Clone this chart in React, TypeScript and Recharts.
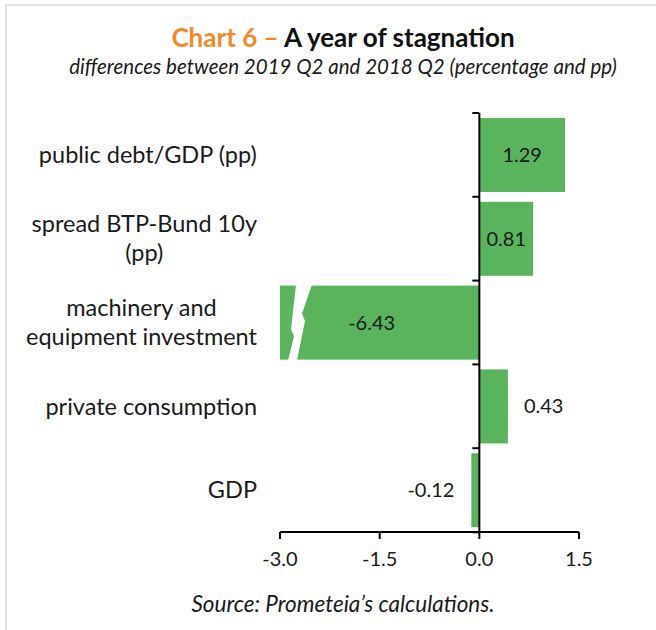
import { BarChart, Bar, XAxis, YAxis, ReferenceLine } from 'recharts';

const categories = [
  'public debt/GDP (pp)',
  'spread BTP-Bund 10y (pp)',
  'machinery and equipment investment',
  'private consumption',
  'GDP',
];
// how each category label is broken into lines
const categoryLines = [
  ['public debt/GDP (pp)'],
  ['spread BTP-Bund 10y', '(pp)'],
  ['machinery and', 'equipment investment'],
  ['private consumption'],
  ['GDP'],
];
const values = [1.29, 0.81, -6.43, 0.43, -0.12];
const xTicks = [-3, -1.5, 0, 1.5];
const xDomain = [-3, 1.5];

const data = categories.map((name, i) => ({ name, value: values[i], lines: categoryLines[i] }));

const FONT = 'Lato, "Open Sans", sans-serif';
const GREEN = '#5ab45e';
const ORANGE = '#f28a2a';
const LABEL_SIZE = 23.5;
const CAT_GAP = 0.06;

const W = 656;
const H = 590;
const MARGIN = { top: 113, right: 77, bottom: 18, left: 10 };
const Y_WIDTH = 270;

let ctx: CanvasRenderingContext2D | null = null;
function measure(text: string, size: number) {
  if (!ctx) ctx = document.createElement('canvas').getContext('2d');
  if (!ctx) return text.length * size * 0.5;
  ctx.font = `${size}px Lato`;
  return ctx.measureText(text).width;
}

// category label, lines centred on each other, block right aligned
function CategoryTick(props: any) {
  const { x, y, payload, index } = props;
  const lines: string[] = data[index]?.lines ?? [payload.value];
  const blockW = Math.max(...lines.map((l) => measure(l, LABEL_SIZE)));
  const cx = x - blockW / 2;
  const lh = 29;
  return (
    <g>
      {lines.map((l, i) => (
        <text
          key={i}
          x={cx}
          y={y + (i - (lines.length - 1) / 2) * lh}
          dy="0.35em"
          textAnchor="middle"
          fontFamily={FONT}
          fontSize={LABEL_SIZE}
          fill="#1a1a1a"
        >
          {l}
        </text>
      ))}
    </g>
  );
}

// bar clipped at the axis start gets a zigzag break; value label and
// the category boundary ticks on the zero line are drawn here too
function BreakBar(props: any) {
  const { x, y, width, height, fill, background, payload, index } = props;
  const plotLeft = background ? background.x : MARGIN.left + Y_WIDTH;
  let x0 = x;
  let x1 = x + width;
  if (x1 < x0) [x0, x1] = [x1, x0];
  const v = payload.value as number;
  const zeroX = v >= 0 ? x0 : x1;
  const broken = x0 < plotLeft - 0.5;
  const bx0 = Math.max(x0, plotLeft);
  const w = x1 - bx0;
  const text = v.toFixed(2);
  const cy = y + height / 2;

  const band = height / (1 - 2 * CAT_GAP);
  const edgeTop = cy - band / 2;
  const edgeBottom = cy + band / 2;

  let lx = bx0 + w / 2;
  let anchor: 'middle' | 'start' | 'end' = 'middle';
  if (w < 40) {
    if (v >= 0) {
      lx = x1 + 16;
      anchor = 'start';
    } else {
      lx = bx0 - 17;
      anchor = 'end';
    }
  } else if (broken) {
    lx = bx0 + w / 2 - 8;
  }

  const L = bx0;
  const T = y - 1;
  const Hh = height + 2;
  const zig = [
    [L + 16, T], [L + 32, T], [L + 22, T + 0.38 * Hh], [L + 25, T + 0.48 * Hh], [L + 17, T + Hh],
    [L + 8, T + Hh], [L + 14, T + 0.68 * Hh], [L + 11, T + 0.59 * Hh],
  ]
    .map((p) => p.join(','))
    .join(' ');

  return (
    <g>
      <rect x={bx0} y={y} width={w} height={height} fill={fill} />
      {broken && <polygon points={zig} fill="#fff" />}
      <line x1={zeroX - 7} x2={zeroX} y1={edgeTop} y2={edgeTop} stroke="#000" strokeWidth={2} />
      {index === data.length - 1 && (
        <line x1={zeroX - 7} x2={zeroX} y1={edgeBottom} y2={edgeBottom} stroke="#000" strokeWidth={2} />
      )}
      <text
        x={lx}
        y={cy}
        dy="0.35em"
        textAnchor={anchor}
        fontFamily={FONT}
        fontSize={20}
        fill="#1a1a1a"
      >
        {text}
      </text>
    </g>
  );
}

export default function App() {
  return (
    <div
      style={{
        position: 'absolute',
        left: 0,
        top: 0,
        width: W,
        height: 630,
        background: '#fff',
        fontFamily: FONT,
        overflow: 'hidden',
      }}
    >
      <div
        style={{
          position: 'absolute',
          left: 5,
          top: 4,
          right: 0,
          bottom: 0,
          borderLeft: '2px solid #e2e2e2',
          borderTop: '2px solid #e2e2e2',
        }}
      />
      <div
        style={{
          position: 'absolute',
          left: 30,
          width: 626,
          top: 21,
          textAlign: 'center',
          fontSize: 26,
          fontWeight: 700,
          color: '#111',
          lineHeight: '32px',
        }}
      >
        <span style={{ color: ORANGE }}>Chart 6 – </span>A year of stagnation
      </div>
      <div
        style={{
          position: 'absolute',
          left: 30,
          width: 626,
          top: 53,
          textAlign: 'center',
          fontSize: 20.5,
          fontStyle: 'italic',
          color: '#1a1a1a',
          lineHeight: '26px',
        }}
      >
        differences between 2019 Q2 and 2018 Q2 (percentage and pp)
      </div>

      <div style={{ position: 'absolute', left: 0, top: 0 }}>
        <BarChart
          width={W}
          height={H}
          data={data}
          layout="vertical"
          margin={MARGIN}
          barCategoryGap={`${CAT_GAP * 100}%`}
        >
          <XAxis
            type="number"
            domain={xDomain}
            ticks={xTicks}
            allowDataOverflow
            tickFormatter={(v: number) => v.toFixed(1)}
            axisLine={{ stroke: '#000', strokeWidth: 2 }}
            tickLine={{ stroke: '#000', strokeWidth: 2 }}
            tickSize={7}
            tickMargin={13}
            height={40}
            tick={{ fontFamily: FONT, fontSize: 20, fill: '#1a1a1a' }}
          />
          <YAxis
            type="category"
            dataKey="name"
            width={Y_WIDTH}
            axisLine={false}
            tickLine={false}
            tickSize={6}
            tickMargin={17}
            tick={<CategoryTick />}
            interval={0}
          />
          <Bar dataKey="value" fill={GREEN} shape={<BreakBar />} isAnimationActive={false} />
          <ReferenceLine x={0} stroke="#000" strokeWidth={2} />
        </BarChart>
      </div>

      <div
        style={{
          position: 'absolute',
          left: 30,
          width: 626,
          top: 590,
          textAlign: 'center',
          fontSize: 22.5,
          fontStyle: 'italic',
          color: '#1a1a1a',
          lineHeight: '28px',
        }}
      >
        Source: Prometeia’s calculations.
      </div>
    </div>
  );
}
